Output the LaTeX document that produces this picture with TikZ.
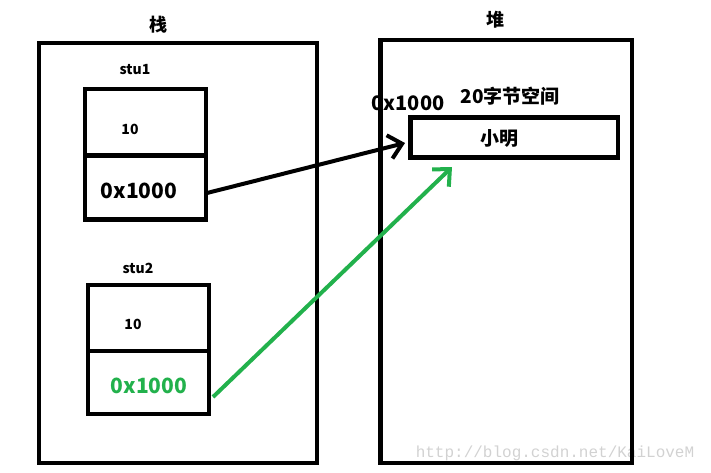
\documentclass[tikz,border=0pt]{standalone}
\usepackage{fontspec}
\setmainfont{Noto Sans CJK SC}
\newfontfamily\markfont{Liberation Mono}
\usetikzlibrary{arrows.meta}
\definecolor{paintgreen}{RGB}{34,177,76}
\begin{document}
\begin{tikzpicture}[x=1pt, y=-1pt, font=\bfseries,
    frame/.style={draw, line width=4.5pt, inner sep=0pt},
    pointer/.style={line width=4pt, -{Straight Barb[length=13pt, width=24pt]}}]
      \useasboundingbox (0,0) rectangle (711,472);
      \node[font=\markfont\fontsize{16}{16}\selectfont, text=gray!35] (mark) at (555,453) {http://blog.csdn.net/KaiLoveM};
      % stack and heap
      \node[frame, minimum width=278pt, minimum height=420pt] (stack) at (178,253) {};
      \node[frame, minimum width=251.5pt, minimum height=423pt] (heap) at (506,251.5) {};
      \node[font=\bfseries\fontsize{18}{18}\selectfont] (stacktitle) at (158,25) {栈};
      \node[font=\bfseries\fontsize{18}{18}\selectfont] (heaptitle) at (495,20) {堆};
      % stu1
      \node[frame, minimum width=121pt, minimum height=66.5pt] (1) at (145.5,122) {};
      \node[frame, minimum width=121pt, minimum height=64pt] (2) at (145.5,187.5) {};
      \node[font=\bfseries\fontsize{14}{14}\selectfont] (stu1) at (135,70) {stu1};
      \node[font=\bfseries\fontsize{14}{14}\selectfont] (val1) at (130,129) {10};
      \node[font=\bfseries\fontsize{21}{21}\selectfont] (addr1) at (139,191) {0x1000};
      % stu2
      \node[frame, minimum width=121pt, minimum height=66pt] (3) at (148.5,318) {};
      \node[frame, minimum width=121pt, minimum height=63pt] (4) at (148.5,382.5) {};
      \node[font=\bfseries\fontsize{14}{14}\selectfont] (stu2) at (138,268) {stu2};
      \node[font=\bfseries\fontsize{14}{14}\selectfont] (val2) at (133,324) {10};
      \node[font=\bfseries\fontsize{21}{21}\selectfont, text=paintgreen] (addr2) at (149,386) {0x1000};
      % object in the heap
      \node[frame, minimum width=207.5pt, minimum height=40pt] (5) at (514,137.5) {};
      \node[font=\bfseries\fontsize{19}{19}\selectfont] (obj) at (499,138) {小明};
      \node[font=\bfseries\fontsize{19}{19}\selectfont] (size) at (510,96) {20字节空间};
      \node[font=\bfseries\fontsize{20}{20}\selectfont] (addr) at (408,103) {0x1000};
      \coordinate (a) at (207,193);
      \coordinate (b) at (405,143);
      \coordinate (c) at (213,397);
      \coordinate (d) at (452,167);
      \foreach \source/\dest/\col in {a/b/black, c/d/paintgreen}
        \draw[pointer, \col] (\source) -- (\dest);
    \end{tikzpicture}
\end{document}
